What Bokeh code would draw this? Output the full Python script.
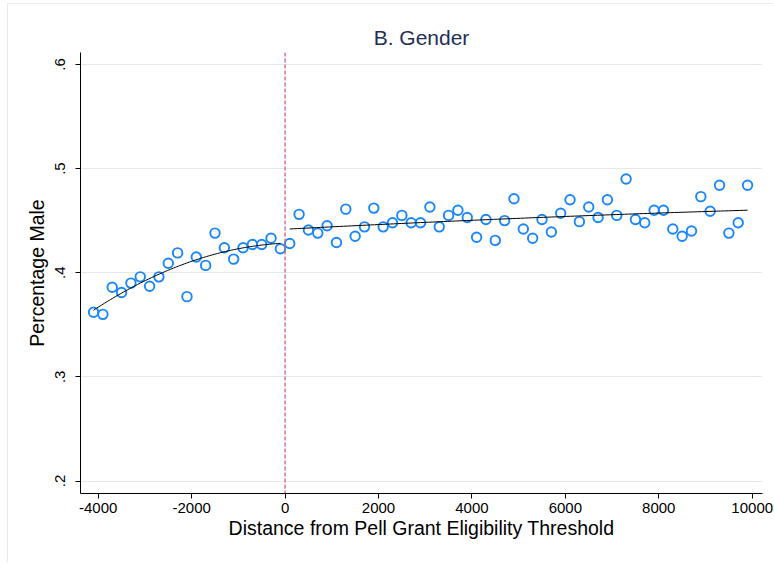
import numpy as np
from bokeh.plotting import figure
from bokeh.models import Span, FixedTicker, Range1d
from bokeh.embed import file_html
from bokeh.resources import INLINE

# Binned share of male students, below and above the Pell eligibility cutoff
left_x = [-4100, -3900, -3700, -3500, -3300, -3100, -2900, -2700, -2500, -2300,
          -2100, -1900, -1700, -1500, -1300, -1100, -900, -700, -500, -300, -100]
left_y = [0.362, 0.360, 0.386, 0.381, 0.390, 0.396, 0.387, 0.396, 0.409, 0.419,
          0.377, 0.415, 0.407, 0.438, 0.424, 0.413, 0.424, 0.427, 0.427, 0.433, 0.423]

right_x = [100, 300, 500, 700, 900, 1100, 1300, 1500, 1700, 1900,
           2100, 2300, 2500, 2700, 2900, 3100, 3300, 3500, 3700, 3900,
           4100, 4300, 4500, 4700, 4900, 5100, 5300, 5500, 5700, 5900,
           6100, 6300, 6500, 6700, 6900, 7100, 7300, 7500, 7700, 7900,
           8100, 8300, 8500, 8700, 8900, 9100, 9300, 9500, 9700, 9900]
right_y = [0.428, 0.456, 0.441, 0.438, 0.445, 0.429, 0.461, 0.435, 0.444, 0.462,
           0.444, 0.448, 0.455, 0.448, 0.448, 0.463, 0.444, 0.455, 0.460, 0.453,
           0.434, 0.451, 0.431, 0.450, 0.471, 0.442, 0.433, 0.451, 0.439, 0.457,
           0.470, 0.449, 0.463, 0.453, 0.470, 0.455, 0.490, 0.451, 0.448, 0.460,
           0.460, 0.442, 0.435, 0.440, 0.473, 0.459, 0.484, 0.438, 0.448, 0.484]

x_ticks = [-4000, -2000, 0, 2000, 4000, 6000, 8000, 10000]
y_ticks = [0.2, 0.3, 0.4, 0.5, 0.6]
y_tick_labels = [".2", ".3", ".4", ".5", ".6"]
cutoff = 0

FONT = "Liberation Sans"
MARKER = "#1a87ff"

p = figure(width=766, height=559,
           x_range=Range1d(-4379, 10220), y_range=Range1d(0.188, 0.6114),
           output_backend="svg", toolbar_location=None,
           min_border_left=72, min_border_right=12,
           min_border_top=48, min_border_bottom=70,
           title="B. Gender")
p.styles = {"margin-left": "7px", "margin-top": "3px",
            "border-left": "1px solid #e4ecf0", "border-top": "1px solid #e4ecf0"}

p.background_fill_color = "white"
p.border_fill_color = "white"
p.outline_line_color = None

p.title.align = "center"
p.title.text_font = FONT
p.title.text_font_style = "normal"
p.title.text_font_size = "21px"
p.title.text_color = "#1f2f57"
p.title.standoff = 8

# axes
p.xaxis.ticker = FixedTicker(ticks=x_ticks)
p.xaxis.major_label_overrides = {t: str(t) for t in x_ticks}
p.yaxis.ticker = FixedTicker(ticks=y_ticks)
p.yaxis.major_label_overrides = dict(zip(y_ticks, y_tick_labels))
p.yaxis.major_label_orientation = "vertical"
p.xaxis.axis_label = "Distance from Pell Grant Eligibility Threshold"
p.yaxis.axis_label = "Percentage Male"
for ax in (p.xaxis, p.yaxis):
    ax.axis_line_color = "black"
    ax.major_tick_line_color = "black"
    ax.major_tick_out = 5
    ax.major_tick_in = 0
    ax.minor_tick_line_color = None
    ax.major_label_text_font = FONT
    ax.major_label_text_font_size = "15px"
    ax.major_label_text_color = "black"
    ax.axis_label_text_font = FONT
    ax.axis_label_text_font_size = "19.5px"
    ax.axis_label_text_font_style = "normal"
    ax.axis_label_text_color = "black"
p.xaxis.major_label_standoff = 4
p.xaxis.axis_label_standoff = 1
p.yaxis.major_label_standoff = 10
p.yaxis.axis_label_standoff = 5

p.xgrid.grid_line_color = None
p.ygrid.grid_line_color = "#e2eaef"
p.ygrid.grid_line_width = 1

# eligibility threshold
p.add_layout(Span(location=cutoff, dimension="height", line_color="#d45f78",
                  line_dash="4 2", line_width=1.3))

# binned means
p.scatter(left_x, left_y, marker="circle", size=9.5, fill_color=None,
          line_color=MARKER, line_width=1.9)
p.scatter(right_x, right_y, marker="circle", size=9.5, fill_color=None,
          line_color=MARKER, line_width=1.9)

# quadratic fit on each side of the threshold
for xs, ys in ((left_x, left_y), (right_x, right_y)):
    coef = np.polyfit(xs, ys, 2)
    grid = np.linspace(xs[0], xs[-1], 120)
    p.line(grid, np.polyval(coef, grid), line_color="black", line_width=1)

open("out.html", "w").write(file_html(p, INLINE))
